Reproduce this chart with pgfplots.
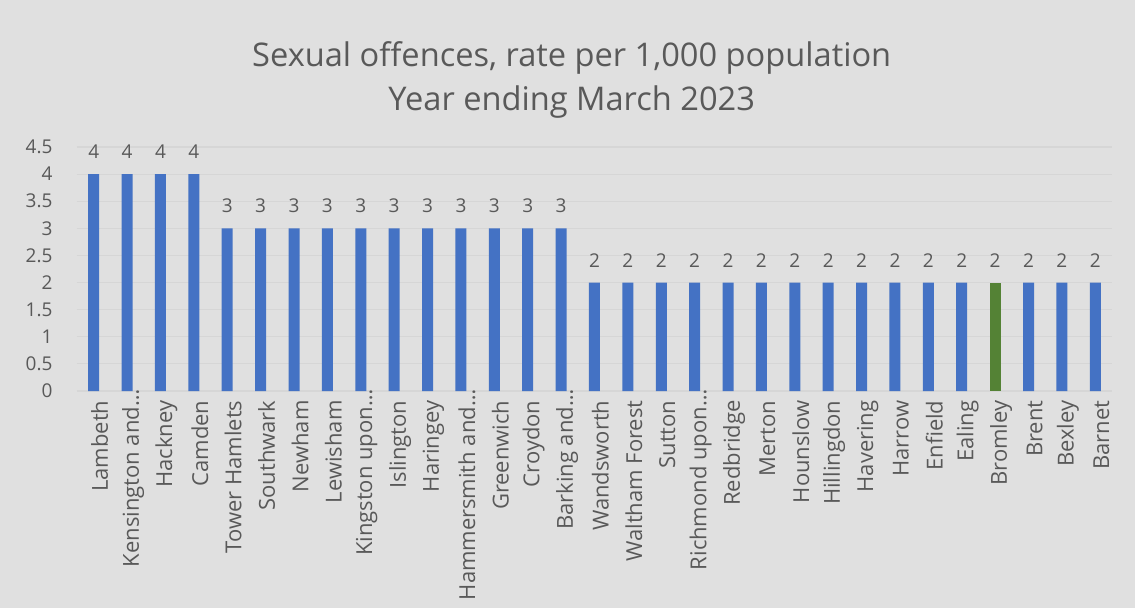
\documentclass[border=0pt]{standalone}
\usepackage{pgfplots}
\pgfplotsset{compat=1.18}
\usepackage{fontspec}
\setmainfont{Open Sans}
\definecolor{bgc}{HTML}{E0E0E0}
\definecolor{gridc}{HTML}{D6D6D6}
\definecolor{txt}{HTML}{595959}
\definecolor{barblue}{HTML}{4472C4}
\definecolor{bargreen}{HTML}{548235}
\begin{document}
\begin{tikzpicture}[x=1pt,y=1pt]
\fill[bgc] (0,0) rectangle (1135,608);
\begin{axis}[
  at={(77pt,217pt)}, anchor=south west,
  scale only axis, width=1035pt, height=244pt,
  xmin=-0.5, xmax=30.5, ymin=0, ymax=4.5,
  /pgf/number format/assume math mode=true,
  ytick={0,0.5,...,4.5},
  yticklabels={0,0.5,1,1.5,2,2.5,3,3.5,4,4.5},
  xtick={0,...,30},
  xticklabels={Lambeth,Kensington and…\kern-11pt,Hackney,Camden,Tower Hamlets,Southwark,Newham,Lewisham,Kingston upon…\kern-11pt,Islington,Haringey,Hammersmith and…\kern-11pt,Greenwich,Croydon,Barking and…\kern-11pt,Wandsworth,Waltham Forest,Sutton,Richmond upon…\kern-11pt,Redbridge,Merton,Hounslow,Hillingdon,Havering,Harrow,Enfield,Ealing,Bromley,Brent,Bexley,Barnet},
  axis line style={draw=none},
  major tick length=0pt,
  xmajorgrids=false,
  ymajorgrids=true, grid style={draw=gridc, line width=1.2pt},
  ybar, bar width=11pt, bar shift=0pt,
  yticklabel style={font=\fontsize{19}{22}\selectfont, text=txt, xshift=-21pt},
  xticklabel style={font=\fontsize{22}{26}\selectfont, text=txt, rotate=90, anchor=east, xshift=-6pt, yshift=-6pt},
  nodes near coords={\pgfmathprintnumber[assume math mode=true]{\pgfplotspointmeta}},
  nodes near coords style={font=\fontsize{19}{22}\selectfont, text=txt, yshift=12pt},
  title={Sexual offences, rate per 1,000 population\\Year ending March 2023},
  title style={align=center, font=\fontsize{32.6}{44}\selectfont, text=txt,
    at={(axis description cs:0.478,1.25)}, anchor=center},
]
\addplot[fill=barblue, draw=none] coordinates {
(0,4) (1,4) (2,4) (3,4) (4,3) (5,3) (6,3) (7,3) (8,3) (9,3) (10,3) (11,3) (12,3) (13,3) (14,3)
(15,2) (16,2) (17,2) (18,2) (19,2) (20,2) (21,2) (22,2) (23,2) (24,2) (25,2) (26,2) (28,2) (29,2) (30,2)};
\addplot[fill=bargreen, draw=none] coordinates {(27,2)};
\end{axis}
\end{tikzpicture}
\end{document}
